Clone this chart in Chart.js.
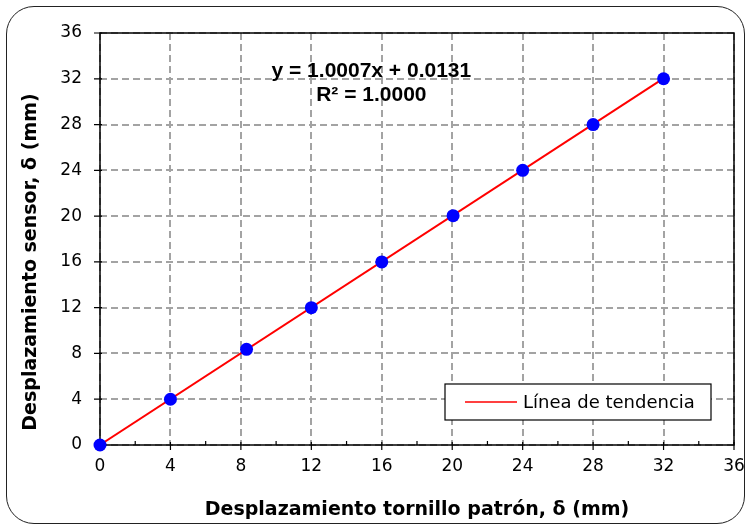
<!DOCTYPE html>
<html>
<head>
<meta charset="utf-8">
<script src="https://cdn.jsdelivr.net/npm/chart.js@4"></script>
<style>
  html, body { margin: 0; padding: 0; background: #fff; }
  #wrap { position: relative; width: 749px; height: 531px; }
  #frame {
    position: absolute; left: 6px; top: 6px; width: 739px; height: 518px;
    box-sizing: border-box; border: 1.5px solid #222; border-radius: 28px;
  }
  canvas { position: absolute; left: 0; top: 0; }
</style>
</head>
<body>
<div id="wrap">
  <div id="frame"></div>
  <canvas id="chart" width="749" height="531"></canvas>
</div>
<script>
// --- Data ---
const sensorX = [0, 4, 8.32, 12, 16, 20.05, 24, 28, 32];
const sensorY = [0, 4, 8.36, 12, 16, 20.04, 24, 28, 32];
const trendX = [0, 32];
const trendY = [0.0131, 32.0355];
const axisTicks = [0, 4, 8, 12, 16, 20, 24, 28, 32, 36];
const minorXTicks = [2, 6, 10, 14, 18, 22, 26, 30, 34];

const equationLines = ['y = 1.0007x + 0.0131', 'R\u00b2 = 1.0000'];
const legendLabel = 'L\u00ednea de tendencia';
const xTitle = 'Desplazamiento tornillo patr\u00f3n, \u03b4 (mm)';
const yTitle = 'Desplazamiento sensor, \u03b4 (mm)';

const tickFont = { family: 'DejaVu Sans', size: 17 };

// frame, tick marks, titles, equation and legend
const extrasPlugin = {
    id: 'extras',
    beforeDatasetsDraw(chart) {
        const { ctx, chartArea: a, scales } = chart;
        ctx.save();
        ctx.strokeStyle = '#000';
        ctx.lineWidth = 1.5;
        ctx.strokeRect(a.left, a.top, a.right - a.left, a.bottom - a.top);

        ctx.lineWidth = 1.2;
        ctx.beginPath();
        axisTicks.forEach(v => {
            const px = scales.x.getPixelForValue(v);
            ctx.moveTo(px, a.bottom - 3);
            ctx.lineTo(px, a.bottom + 5);
            const py = scales.y.getPixelForValue(v);
            ctx.moveTo(a.left - 6, py);
            ctx.lineTo(a.left + 2, py);
        });
        minorXTicks.forEach(v => {
            const px = scales.x.getPixelForValue(v);
            ctx.moveTo(px, a.bottom - 4);
            ctx.lineTo(px, a.bottom);
        });
        ctx.stroke();

        ctx.fillStyle = '#000';
        ctx.textAlign = 'center';
        ctx.textBaseline = 'middle';

        // axis titles
        ctx.font = 'bold 19px "DejaVu Sans", sans-serif';
        ctx.fillText(xTitle, (a.left + a.right) / 2, a.bottom + 65);
        ctx.save();
        ctx.translate(a.left - 69, (a.top + a.bottom) / 2 + 23);
        ctx.rotate(-Math.PI / 2);
        ctx.fillText(yTitle, 0, 0);
        ctx.restore();

        // equation label
        const cx = a.left + (a.right - a.left) * 0.428;
        ctx.font = 'bold 21px "Liberation Sans", Arial, sans-serif';
        ctx.fillText(equationLines[0], cx, a.top + 38);
        ctx.fillText(equationLines[1], cx, a.top + 62);
        ctx.restore();
    },
    afterDraw(chart) {
        const { ctx, chartArea: a } = chart;
        const w = 266, h = 36;
        const x = a.right - 23 - w, y = a.bottom - 25 - h;
        ctx.save();
        ctx.fillStyle = '#fff';
        ctx.fillRect(x, y, w, h);
        ctx.strokeStyle = '#000';
        ctx.lineWidth = 1.2;
        ctx.strokeRect(x, y, w, h);
        ctx.strokeStyle = '#ff0000';
        ctx.lineWidth = 1.5;
        ctx.beginPath();
        ctx.moveTo(x + 20, y + h / 2);
        ctx.lineTo(x + 72, y + h / 2);
        ctx.stroke();
        ctx.fillStyle = '#000';
        ctx.font = '18px "DejaVu Sans", sans-serif';
        ctx.textAlign = 'left';
        ctx.textBaseline = 'middle';
        ctx.fillText(legendLabel, x + 78, y + h / 2 + 1);
        ctx.restore();
    }
};

const ctx = document.getElementById('chart').getContext('2d');
new Chart(ctx, {
    type: 'scatter',
    data: {
        datasets: [
            {
                label: legendLabel,
                data: trendX.map((x, i) => ({ x, y: trendY[i] })),
                showLine: true,
                borderColor: '#ff0000',
                borderWidth: 2,
                pointRadius: 0,
                order: 2
            },
            {
                label: 'Datos',
                data: sensorX.map((x, i) => ({ x, y: sensorY[i] })),
                backgroundColor: '#0000ff',
                borderColor: '#0000ff',
                pointRadius: 6.5,
                borderWidth: 0,
                clip: false,
                order: 1
            }
        ]
    },
    options: {
        responsive: false,
        animation: false,
        layout: { padding: { top: 33, right: 15, left: 0, bottom: 0 } },
        plugins: {
            legend: { display: false },
            tooltip: { enabled: false }
        },
        scales: {
            x: {
                type: 'linear',
                min: 0, max: 36,
                afterBuildTicks: s => { s.ticks = axisTicks.map(v => ({ value: v })); },
                afterFit: s => { s.height = 86; s.paddingLeft = 0; s.paddingRight = 0; },
                ticks: { font: tickFont, color: '#000', padding: 11 },
                grid: { color: '#a3a3a3', lineWidth: 2, drawTicks: false },
                border: { display: false, dash: [7, 4] }
            },
            y: {
                type: 'linear',
                min: 0, max: 36,
                afterBuildTicks: s => { s.ticks = axisTicks.map(v => ({ value: v })); },
                afterFit: s => { s.width = 100; s.paddingTop = 0; s.paddingBottom = 0; },
                ticks: { font: tickFont, color: '#000', padding: 18 },
                grid: { color: '#a3a3a3', lineWidth: 2, drawTicks: false },
                border: { display: false, dash: [7, 4] }
            }
        }
    },
    plugins: [extrasPlugin]
});
</script>
</body>
</html>
